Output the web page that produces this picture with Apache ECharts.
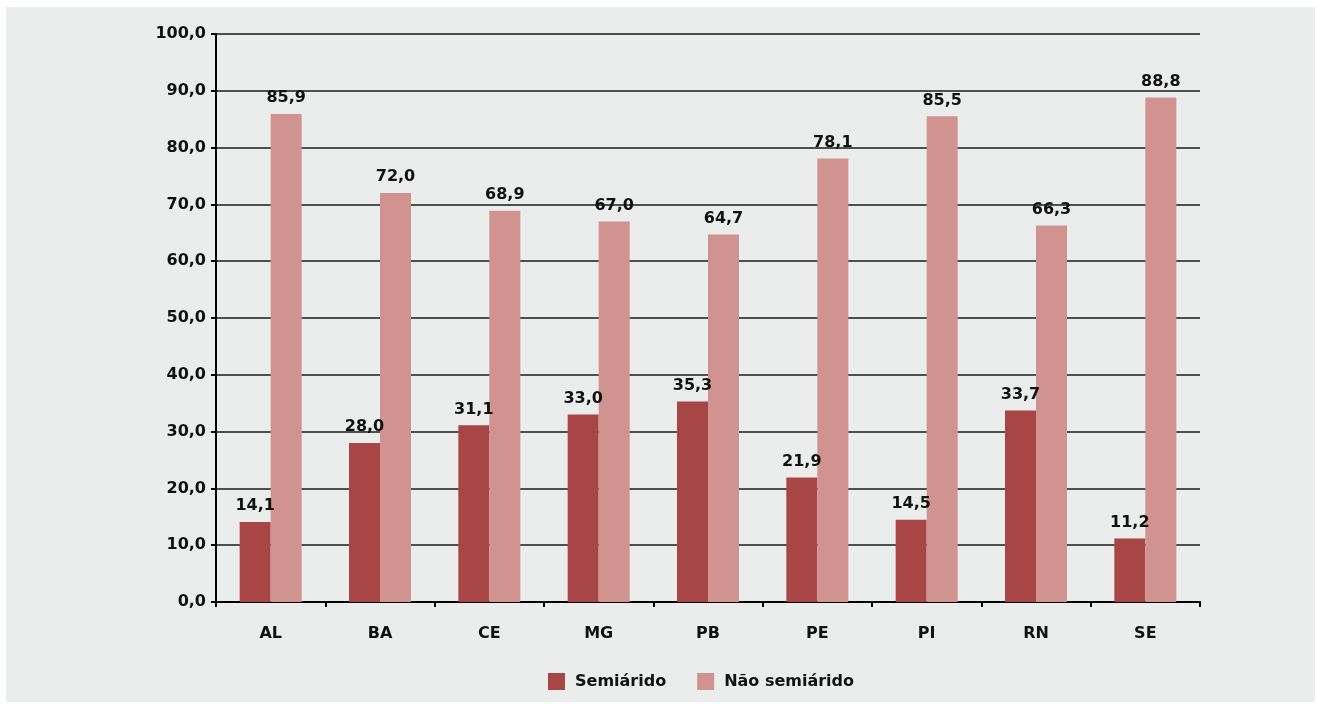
<!DOCTYPE html>
<html><head><meta charset="utf-8">
<script src="https://cdn.jsdelivr.net/npm/echarts@6/dist/echarts.min.js"></script>
<style>
html,body{margin:0;padding:0;background:#fff;width:1317px;height:704px;overflow:hidden}
#bg{position:absolute;left:6px;top:7px;width:1309px;height:695px;background:#ebeded}
#c{position:absolute;left:0;top:0;width:1317px;height:704px}
</style></head>
<body><div id="bg"></div><div id="c"></div>
<script>
const categories = ['AL','BA','CE','MG','PB','PE','PI','RN','SE'];
const semiarido = [14.1, 28.0, 31.1, 33.0, 35.3, 21.9, 14.5, 33.7, 11.2];
const naoSemiarido = [85.9, 72.0, 68.9, 67.0, 64.7, 78.1, 85.5, 66.3, 88.8];
const seriesNames = ['Semiárido', 'Não semiárido'];
const fmt = v => v.toFixed(1).replace('.', ',');
const font = '"DejaVu Sans", sans-serif';
const chart = echarts.init(document.getElementById('c'), null, {renderer:'canvas'});
const lbl = {show:true, position:'top', distance:8, color:'#111', fontFamily:font, fontWeight:'bold', fontSize:16,
  formatter: p => fmt(p.value)};
chart.setOption({
  backgroundColor:'transparent',
  animation:false,
  grid:{left:216, right:117, top:34, bottom:102, containLabel:false},
  legend:{top:668, left:543, itemWidth:17, itemHeight:17, itemGap:31, icon:'rect',
    textStyle:{fontFamily:font, fontWeight:'bold', fontSize:16, color:'#111', padding:[0,0,0,5]}, data:seriesNames},
  xAxis:{type:'category', data:categories,
    axisLine:{lineStyle:{color:'#000', width:2}},
    axisTick:{show:true, length:5, lineStyle:{color:'#000', width:2}},
    axisLabel:{margin:24, color:'#111', fontFamily:font, fontWeight:'bold', fontSize:16}},
  yAxis:{type:'value', min:0, max:100, interval:10,
    axisLine:{show:true, lineStyle:{color:'#000', width:2}},
    axisTick:{show:true, length:5, lineStyle:{color:'#000', width:2}},
    splitLine:{lineStyle:{color:'#1a1a1a', width:1.5}},
    axisLabel:{margin:10, color:'#111', fontFamily:font, fontWeight:'bold', fontSize:16, formatter: v => fmt(v)}},
  series:[
    {name:seriesNames[0], type:'bar', data:semiarido, barWidth:31, barGap:'0%', itemStyle:{color:'#a84646'}, label:lbl},
    {name:seriesNames[1], type:'bar', data:naoSemiarido, barWidth:31, barGap:'0%', itemStyle:{color:'#d09390'}, label:lbl}
  ]
});
</script></body></html>
